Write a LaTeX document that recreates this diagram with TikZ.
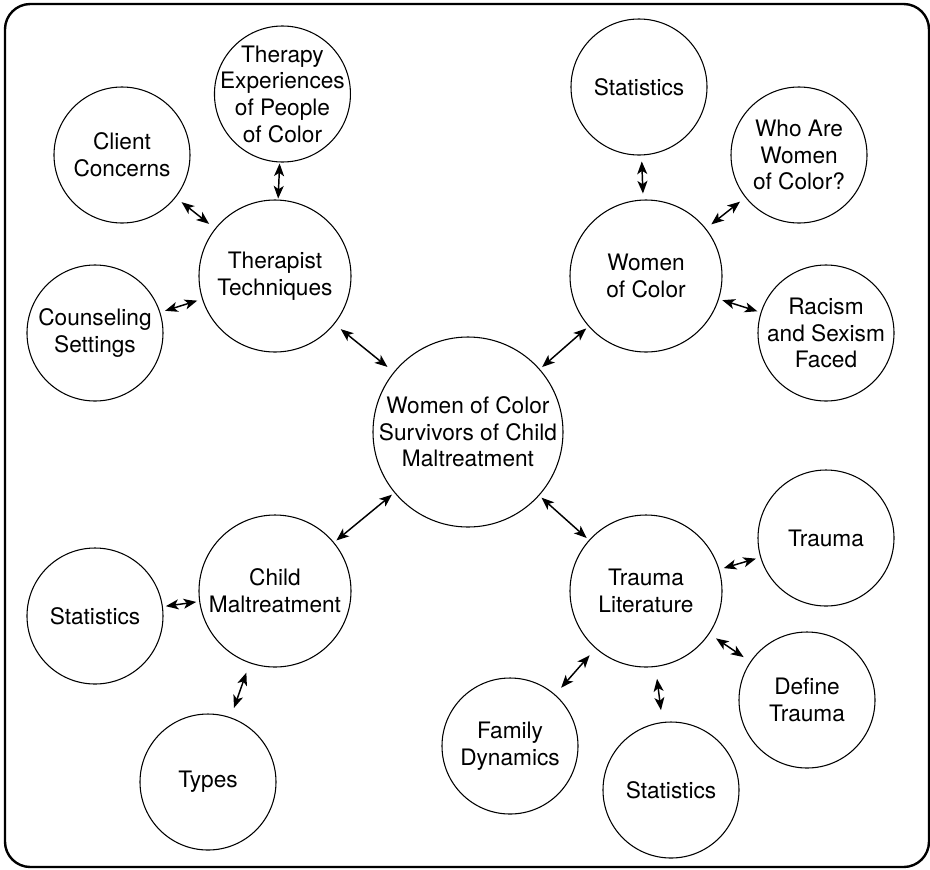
\documentclass[tikz,border=0pt]{standalone}
\usepackage{fontspec}
\setmainfont{TeX Gyre Heros}
\usetikzlibrary{positioning}
\usetikzlibrary{arrows.meta}

\begin{document}
\begin{tikzpicture}[node distance=10mm,on grid,>={Stealth[length=9.5pt,width=7.5pt,inset=2.5pt]},
		topic/.style={circle,draw=black,line width=0.8pt,inner sep=-12pt,align=center,font=\fontsize{17}{20}\selectfont},
		main/.style={topic,minimum size=142.5pt},
		hub/.style={topic,minimum size=114pt},
		sub/.style={topic,minimum size=102pt},
		link/.style={<->,line width=1.1pt,shorten <=#1,shorten >=#1},
		link/.default=3pt]
		\useasboundingbox (-351pt,-327.75pt) rectangle (346.5pt,324pt);
		\draw[line width=1.8pt,rounded corners=19pt] (-347.25pt,-326.25pt) rectangle (345.75pt,321pt);
		
		\node[main]  (centre)    at (0,0) 				{Women of Color\\Survivors of Child\\Maltreatment};
		\node[hub]   (techniques) [above left=117pt and 144.75pt of centre] 	{Therapist\\Techniques};
		\node[hub]   (women)      [above right=117pt and 133.5pt of centre] 	{Women\\of Color};
		\node[hub]   (childmal)   [below left=119.25pt and 144.75pt of centre] 	{Child\\Maltreatment};
		\node[hub]   (traumalit)  [below right=119.25pt and 133.5pt of centre] 	{Trauma\\Literature};
		
		\node[sub]   (therapy) [above right=136.5pt and 5.6pt of techniques] 	{Therapy\\Experiences\\of People\\of Color};
		\node[sub]   (client)  [above left=90.75pt and 114.75pt of techniques] 	{Client\\Concerns};
		\node[sub]   (counsel) [below left=42.75pt and 135pt of techniques] 	{Counseling\\Settings};
		
		\node[sub]   (statsw)  [above left=141.75pt and 5.25pt of women] 		{Statistics};
		\node[sub]   (who)     [above right=90.75pt and 114.75pt of women] 		{Who Are\\Women\\of Color?};
		\node[sub]   (racism)  [below right=42.75pt and 135pt of women] 		{Racism\\and Sexism\\Faced};
		
		\node[sub]   (statsc)  [below left=18.75pt and 135pt of childmal] 		{Statistics};
		\node[sub]   (types)   [below left=143.25pt and 50.25pt of childmal] 	{Types};
		
		\node[sub]   (trauma)  [above right=39.75pt and 135pt of traumalit] 	{Trauma};
		\node[sub]   (define)  [below right=81.75pt and 120.75pt of traumalit] 	{Define\\Trauma};
		\node[sub]   (statst)  [below right=149.25pt and 18.75pt of traumalit] 	{Statistics};
		\node[sub]   (family)  [below left=116.25pt and 102pt of traumalit] 	{Family\\Dynamics};
		
		\path
		(therapy) edge[link=0.75pt] (techniques)
		(client) edge[link=5.6pt] (techniques)
		(counsel) edge[link=3.75pt] (techniques)
		(techniques) edge[link=6pt] (centre)
		(statsw) edge[link=4.5pt] (women)
		(who) edge[link=5pt] (women)
		(racism) edge[link=2.6pt] (women)
		(women) edge[link=2.25pt] (centre)
		(childmal) edge[link=2.25pt] (centre)
		(statsc) edge[link=2.25pt] (childmal)
		(types) edge[link=7.5pt] (childmal)
		(centre) edge[link=2.25pt] (traumalit)
		(trauma) edge[link=3.4pt] (traumalit)
		(define) edge[link=6pt] (traumalit)
		(statst) edge[link=9pt] (traumalit)
		(family) edge[link=6.75pt] (traumalit);
		\end{tikzpicture}
\end{document}
